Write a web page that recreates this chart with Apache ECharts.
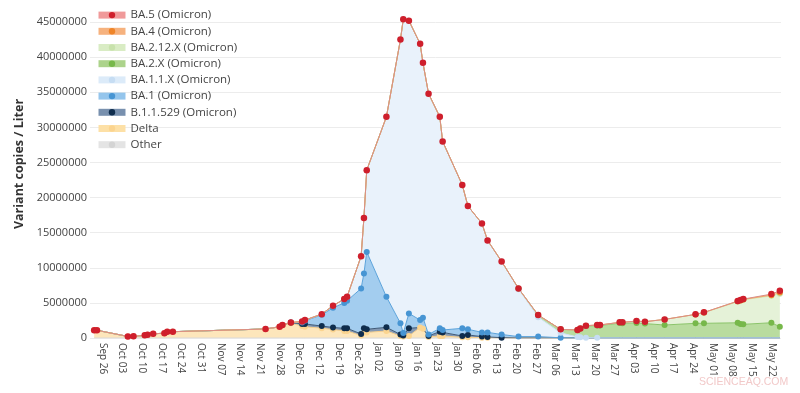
<!DOCTYPE html>
<html>
<head>
<meta charset="utf-8">
<script src="https://cdn.jsdelivr.net/npm/echarts@6/dist/echarts.min.js"></script>
<style>
html,body{margin:0;padding:0;background:#ffffff;}
#chart{width:800px;height:393px;}
</style>
</head>
<body>
<div id="chart"></div>
<script>
// ---- Data ----
const dates = [
  '2021-09-23','2021-09-24','2021-10-05','2021-10-07','2021-10-11','2021-10-12','2021-10-14','2021-10-18','2021-10-19','2021-10-21',
  '2021-11-23','2021-11-28','2021-11-29','2021-12-02','2021-12-06','2021-12-07','2021-12-13','2021-12-17','2021-12-21','2021-12-22',
  '2021-12-27','2021-12-28','2021-12-29','2022-01-05','2022-01-10','2022-01-11','2022-01-13','2022-01-17','2022-01-18','2022-01-20',
  '2022-01-24','2022-01-25','2022-02-01','2022-02-03','2022-02-08','2022-02-10','2022-02-15','2022-02-21','2022-02-28','2022-03-08',
  '2022-03-14','2022-03-15','2022-03-17','2022-03-21','2022-03-22','2022-03-29','2022-03-30','2022-04-04','2022-04-07','2022-04-14',
  '2022-04-25','2022-04-28','2022-05-10','2022-05-11','2022-05-12','2022-05-22','2022-05-25'
];

const other = [
  0,0,0,0,0,0,0,0,0,0,
  0,0,0,0,0,0,0,0,0,0,
  0,0,0,0,0,0,0,0,0,0,
  0,0,0,0,0,0,0,0,0,0,
  0,0,0,0,0,0,0,0,0,0,
  0,0,0,0,0,0,0
];
const delta = [
  1.1e6,1.1e6,0.22e6,0.25e6,0.38e6,0.45e6,0.6e6,0.68e6,0.9e6,0.9e6,
  1.28e6,1.6e6,1.85e6,2.1e6,1.7e6,1.6e6,1.4e6,1.2e6,1.0e6,1.0e6,
  0.35e6,0.8e6,0.8e6,1.0e6,0.3e6,0.2e6,0.3e6,1.5e6,1.3e6,0.15e6,
  0.3e6,0.3e6,0.1e6,0.1e6,0.05e6,0.05e6,0,0,0,0,
  0,0,0,0,0,0,0,0,0,0,
  0,0,0,0,0,0,0
];
const b11529 = [
  0,0,0,0,0,0,0,0,0,0,
  0,0,0,0.1e6,0.3e6,0.4e6,0.3e6,0.3e6,0.38e6,0.38e6,
  0.22e6,0.58e6,0.44e6,0.52e6,0.2e6,0.15e6,1.08e6,0,0,0.15e6,
  0.6e6,0.5e6,0.18e6,0.33e6,0.15e6,0.1e6,0.05e6,0,0,0,
  0,0,0,0,0,0,0,0,0,0,
  0,0,0,0,0,0,0
];
const ba1 = [
  0,0,0,0,0,0,0,0,0,0,
  0,0,0,0,0.2e6,0.45e6,1.6e6,2.8e6,3.62e6,3.92e6,
  6.49e6,7.82e6,11.02e6,4.35e6,1.6e6,0.35e6,2.12e6,1.06e6,1.6e6,0.2e6,
  0.48e6,0.34e6,1.1e6,0.81e6,0.6e6,0.65e6,0.45e6,0.2e6,0.2e6,0.03e6,
  0,0,0,0,0,0,0,0,0,0,
  0,0,0,0,0,0,0
];
const ba11x = [
  0,0,0,0,0,0,0,0,0,0,
  0,0,0,0,0.15e6,0.1e6,0.1e6,0.3e6,0.55e6,0.57e6,
  4.59e6,7.9e6,11.64e6,25.63e6,40.4e6,44.7e6,41.7e6,39.34e6,36.3e6,34.3e6,
  30.12e6,26.86e6,20.42e6,17.56e6,15.5e6,13.1e6,10.4e6,6.76e6,2.77e6,0.7e6,
  0.14e6,0.1e6,0.05e6,0.03e6,0,0,0,0,0,0,
  0,0,0,0,0,0,0
];
const ba2x = [
  0,0,0,0,0,0,0,0,0,0,
  0,0,0,0,0,0,0,0,0,0,
  0,0,0,0,0,0,0,0,0,0,
  0,0,0,0,0,0,0,0.1e6,0.3e6,0.5e6,
  1.0e6,1.25e6,1.65e6,1.75e6,1.78e6,2.12e6,2.1e6,2.15e6,2.05e6,1.85e6,
  2.09e6,2.09e6,2.17e6,2.0e6,1.95e6,2.17e6,1.6e6
];
const ba212x = [
  0,0,0,0,0,0,0,0,0,0,
  0,0,0,0,0,0,0,0,0,0,
  0,0,0,0,0,0,0,0,0,0,
  0,0,0,0,0,0,0,0,0,0,
  0,0.02e6,0.05e6,0.07e6,0.07e6,0.11e6,0.13e6,0.26e6,0.27e6,0.8e6,
  1.25e6,1.52e6,3.0e6,3.3e6,3.49e6,3.83e6,4.7e6
];
const ba4 = [
  0,0,0,0,0,0,0,0,0,0,
  0,0,0,0,0,0,0,0,0,0,
  0,0,0,0,0,0,0,0,0,0,
  0,0,0,0,0,0,0,0,0,0,
  0,0,0,0,0,0,0,0,0,0,
  0.02e6,0.02e6,0.05e6,0.05e6,0.05e6,0.1e6,0.17e6
];
const ba5 = [
  0,0,0,0,0,0,0,0,0,0,
  0,0,0,0,0,0,0,0,0,0,
  0,0,0,0,0,0,0,0,0,0,
  0,0,0,0,0,0,0,0,0,0,
  0,0,0,0,0,0,0,0,0,0,
  0.01e6,0.02e6,0.04e6,0.05e6,0.05e6,0.15e6,0.25e6
];

const xTickDates = [
  '2021-09-26','2021-10-03','2021-10-10','2021-10-17','2021-10-24','2021-10-31','2021-11-07','2021-11-14','2021-11-21','2021-11-28',
  '2021-12-05','2021-12-12','2021-12-19','2021-12-26','2022-01-02','2022-01-09','2022-01-16','2022-01-23','2022-01-30','2022-02-06',
  '2022-02-13','2022-02-20','2022-02-27','2022-03-06','2022-03-13','2022-03-20','2022-03-27','2022-04-03','2022-04-10','2022-04-17',
  '2022-04-24','2022-05-01','2022-05-08','2022-05-15','2022-05-22'
];
const monthNames = ['Jan','Feb','Mar','Apr','May','Jun','Jul','Aug','Sep','Oct','Nov','Dec'];
const xRange = ['2021-09-21T12:30:00Z', '2022-05-25T10:00:00Z'];

// ---- Styles (bottom of stack first) ----
const seriesStyles = [
  {name:'Other',               values: other,  line:'#d8d8d8', fill:'#ececec', marker:'#d4d4d4', band:'#e4e4e4', always:false},
  {name:'Delta',               values: delta,  line:'#f7cf8c', fill:'#fde6bb', marker:'#fbd48f', band:'#fde0a6', always:false},
  {name:'B.1.1.529 (Omicron)', values: b11529, line:'#3f5a78', fill:'#8398b3', marker:'#0f2d4d', band:'#7890ae', always:false},
  {name:'BA.1 (Omicron)',      values: ba1,    line:'#5aa2da', fill:'#a3cdef', marker:'#4795d3', band:'#94c5ec', always:false},
  {name:'BA.1.1.X (Omicron)',  values: ba11x,  line:'#cfe3f6', fill:'#e9f2fb', marker:'#c6ddf3', band:'#dcebf9', always:false},
  {name:'BA.2.X (Omicron)',    values: ba2x,   line:'#8bc46a', fill:'#b9dc9f', marker:'#77b84a', band:'#acd38b', always:false},
  {name:'BA.2.12.X (Omicron)', values: ba212x, line:'#d0e7b8', fill:'#e5f2d8', marker:'#c8e2ac', band:'#d9ecc4', always:false},
  {name:'BA.4 (Omicron)',      values: ba4,    line:'#f5a868', fill:'#fbd3b3', marker:'#ef8529', band:'#f6b27e', always:false},
  {name:'BA.5 (Omicron)',      values: ba5,    line:'#d98f86', fill:'#f4b6b6', marker:'#cf1f2c', band:'#f09a9a', always:true}
];

const FONT = '"Open Sans", "DejaVu Sans", Arial, sans-serif';
const toTime = s => Date.parse(s.length === 10 ? s + 'T00:00:00Z' : s);
const xTimes = dates.map(toTime);
const xMin = toTime(xRange[0]);
const xMax = toTime(xRange[1]);

const areaSeries = seriesStyles.map(s => ({
  type: 'line',
  name: s.name,
  stack: 'total',
  xAxisIndex: 0,
  data: xTimes.map((t, i) => [t, s.values[i]]),
  symbol: 'circle',
  showSymbol: false,
  lineStyle: {color: s.line, width: 1},
  itemStyle: {color: s.marker},
  areaStyle: {color: s.fill, opacity: 1},
  z: 2,
  silent: true
}));

const markerSeries = seriesStyles.map(s => ({
  type: 'line',
  name: s.name,
  stack: 'markers',
  xAxisIndex: 0,
  data: xTimes.map((t, i) => [t, s.values[i]]),
  symbol: 'circle',
  showSymbol: true,
  symbolSize: s.always ? 6.5 : (v => (v[1] > 0 ? 6 : 0)),
  lineStyle: {width: 0, opacity: 0},
  itemStyle: {color: s.marker},
  z: 3,
  clip: false,
  silent: true
}));

const legendData = seriesStyles.slice().reverse().map(s => ({
  name: s.name,
  itemStyle: {color: s.marker, borderWidth: 0},
  lineStyle: {color: s.band, width: 7, opacity: 1}
}));

const chart = echarts.init(document.getElementById('chart'), null, {renderer: 'canvas'});
chart.setOption({
  animation: false,
  backgroundColor: '#ffffff',
  textStyle: {fontFamily: FONT},
  grid: {left: 90, right: 19, top: 8, bottom: 55, containLabel: false},
  legend: {
    orient: 'vertical',
    left: 95,
    top: 7,
    padding: 0,
    itemGap: 0,
    itemWidth: 27,
    itemHeight: 8,
    selectedMode: false,
    data: legendData,
    textStyle: {fontSize: 11.5, color: '#444', fontFamily: FONT, lineHeight: 16.2}
  },
  xAxis: [{
    type: 'time',
    position: 'top',
    min: xMin,
    max: xMax,
    show: false
  }, {
    type: 'value',
    position: 'bottom',
    min: xMin,
    max: xMax,
    axisLine: {show: false},
    axisTick: {show: false},
    splitLine: {show: false},
    axisLabel: {
      customValues: xTickDates.map(toTime),
      rotate: -90,
      margin: 5,
      fontSize: 10,
      color: '#444',
      fontFamily: FONT,
      formatter: v => {
        const d = new Date(v);
        return monthNames[d.getUTCMonth()] + ' ' + String(d.getUTCDate()).padStart(2, '0');
      }
    }
  }],
  yAxis: {
    type: 'value',
    min: 0,
    max: 47e6,
    interval: 5e6,
    name: 'Variant copies / Liter',
    nameLocation: 'middle',
    nameGap: 54,
    nameTextStyle: {fontSize: 12.5, fontWeight: 'bold', color: '#333', fontFamily: FONT, padding: [0, 0, 0, 18]},
    axisLine: {show: false},
    axisTick: {show: false},
    splitLine: {show: true, showMaxLine: false, lineStyle: {color: '#ececec', width: 1}},
    axisLabel: {
      showMaxLabel: false,
      margin: 3,
      fontSize: 11,
      color: '#444',
      fontFamily: FONT,
      formatter: v => String(v)
    }
  },
  graphic: [{
    type: 'text',
    left: 699,
    top: 377,
    silent: true,
    style: {text: 'SCIENCEAQ.COM', fill: '#f2c9c9', font: '10.5px "Liberation Sans", Arial, sans-serif'}
  }],
  series: areaSeries.concat(markerSeries)
});
</script>
</body>
</html>
